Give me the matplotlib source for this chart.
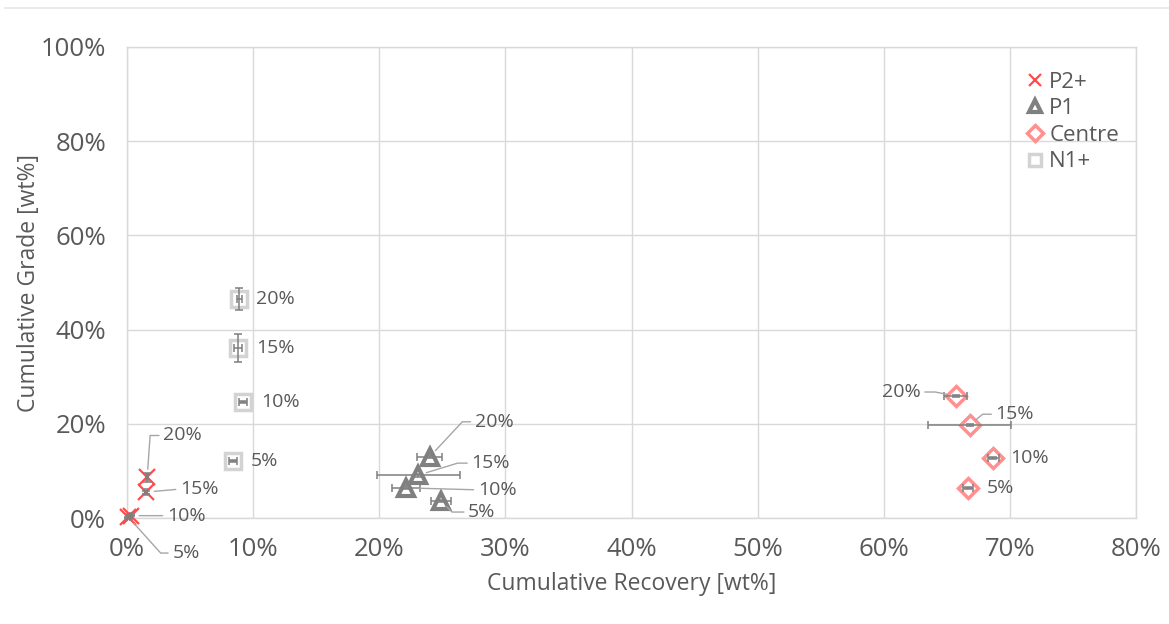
import matplotlib
matplotlib.use("Agg")
import matplotlib.pyplot as plt
from matplotlib.lines import Line2D
from matplotlib.ticker import FuncFormatter

plt.rcParams['font.family'] = ['Open Sans', 'DejaVu Sans']

# ---------------- data (values in %) ----------------
labels = ["5%", "10%", "15%", "20%"]

p2_x = [0.1, 0.3, 1.5, 1.6]
p2_y = [0.2, 0.5, 5.5, 8.6]
p2_xerr = [0.1, 0.1, 0.1, 0.1]
p2_yerr = [0.1, 0.1, 0.3, 1.0]

p1_x = [24.9, 22.1, 23.1, 24.0]
p1_y = [3.6, 6.4, 9.1, 13.0]
p1_xerr = [0.8, 1.1, 3.3, 1.0]
p1_yerr = [0.3, 0.3, 0.3, 0.3]

ce_x = [66.7, 68.7, 66.8, 65.7]
ce_y = [6.4, 12.7, 19.7, 25.9]
ce_xerr = [0.4, 0.4, 3.3, 0.9]
ce_yerr = [0.2, 0.2, 0.2, 0.2]

n1_x = [8.4, 9.2, 8.8, 8.9]
n1_y = [12.1, 24.6, 36.1, 46.5]
n1_xerr = [0.3, 0.3, 0.3, 0.2]
n1_yerr = [0.2, 0.2, 3.0, 2.4]

# label offsets in pixels (dx right, dy up), and leader angle (None = no leader, 0 = straight)
p2_off = [(44, -36, -48), (36, 0, 0), (34, 3, 0), (16, 42, 86)]
p1_off = [(27, -11, -45), (72, -2, 0), (53, 12, 17), (45, 35, 47)]
ce_off = [(18, 0, None), (17, 0, None), (26, 11, 40), (-35, 4, -11)]
n1_off = [(18, 0, None), (18, 0, None), (18, 0, None), (17, 0, None)]

TXT = '#595959'
GRID = '#D9D9D9'
ERR = '#7F7F7F'
LEAD = '#A6A6A6'

fig = plt.figure(figsize=(11.69, 6.24), dpi=100)
ax = fig.add_axes([127/1169, 1-518/624, (1136-127)/1169, (518-47)/624])

ax.set_xlim(0, 80)
ax.set_ylim(0, 100)
ax.set_xticks(range(0, 81, 10))
ax.set_yticks(range(0, 101, 20))
fmt = FuncFormatter(lambda v, p: f"{v:.0f}%")
ax.xaxis.set_major_formatter(fmt)
ax.yaxis.set_major_formatter(fmt)
ax.grid(True, color=GRID, lw=1, zorder=0)
ax.set_axisbelow(True)
for s in ax.spines.values():
    s.set_color(GRID)
    s.set_linewidth(1)
ax.tick_params(length=0, labelsize=18.5, labelcolor=TXT)
ax.tick_params(axis='x', pad=14)
ax.tick_params(axis='y', pad=15)
ax.set_xlabel("Cumulative Recovery [wt%]", fontsize=16.5, color=TXT, labelpad=7)
ax.set_ylabel("Cumulative Grade [wt%]", fontsize=16.5, color=TXT, labelpad=0)

series = [
    (p2_x, p2_y, p2_xerr, p2_yerr, p2_off, dict(marker='x', color='#FF4B4B', ms=11, mew=1.6, mfc='none'), "P2+"),
    (p1_x, p1_y, p1_xerr, p1_yerr, p1_off, dict(marker='^', color='#808080', ms=11, mew=3, mfc='none'), "P1"),
    (ce_x, ce_y, ce_xerr, ce_yerr, ce_off, dict(marker='D', color='#FF9090', ms=10, mew=2.5, mfc='none'), "Centre"),
    (n1_x, n1_y, n1_xerr, n1_yerr, n1_off, dict(marker='s', color='#D3D3D3', ms=11, mew=2.5, mfc='none'), "N1+"),
]

handles = []
for xs, ys, xe, ye, offs, style, name in series:
    h, = ax.plot(xs, ys, linestyle='none', zorder=3, label=name, clip_on=False, **style)
    handles.append(h)
    eb = ax.errorbar(xs, ys, xerr=xe, yerr=ye, fmt='none', ecolor=ERR, elinewidth=1.1,
                     capsize=3, capthick=1.1, zorder=4)
    for art in eb.get_children():
        art.set_clip_on(False)
    for x, y, lab, (dx, dy, ang) in zip(xs, ys, labels, offs):
        ha = 'left' if dx >= 0 else 'right'
        kw = {}
        if ang is not None:
            cs = "arc3,rad=0" if ang == 0 else f"angle,angleA=0,angleB={ang},rad=0"
            kw['arrowprops'] = dict(arrowstyle='-', color=LEAD, lw=1,
                                    shrinkA=1, shrinkB=6,
                                    relpos=(0 if dx >= 0 else 1, 0.5),
                                    connectionstyle=cs)
        ax.annotate(lab, xy=(x, y), xytext=(dx*0.72, dy*0.72), textcoords='offset points',
                    ha=ha, va='center', fontsize=14, color=TXT, zorder=5,
                    annotation_clip=False, **kw)

leg = ax.legend(handles=handles, loc='upper right', bbox_to_anchor=(1.003, 0.99), frameon=False,
                fontsize=16, labelcolor=TXT, handlelength=0.7, handletextpad=0.3,
                labelspacing=0.25, borderaxespad=0.5, markerscale=0.8)

fig.add_artist(Line2D([5/1169, 1], [1-8/624, 1-8/624], color='#E6E6E6', lw=1.2,
                      transform=fig.transFigure))

fig.savefig("out.png", dpi=100)
